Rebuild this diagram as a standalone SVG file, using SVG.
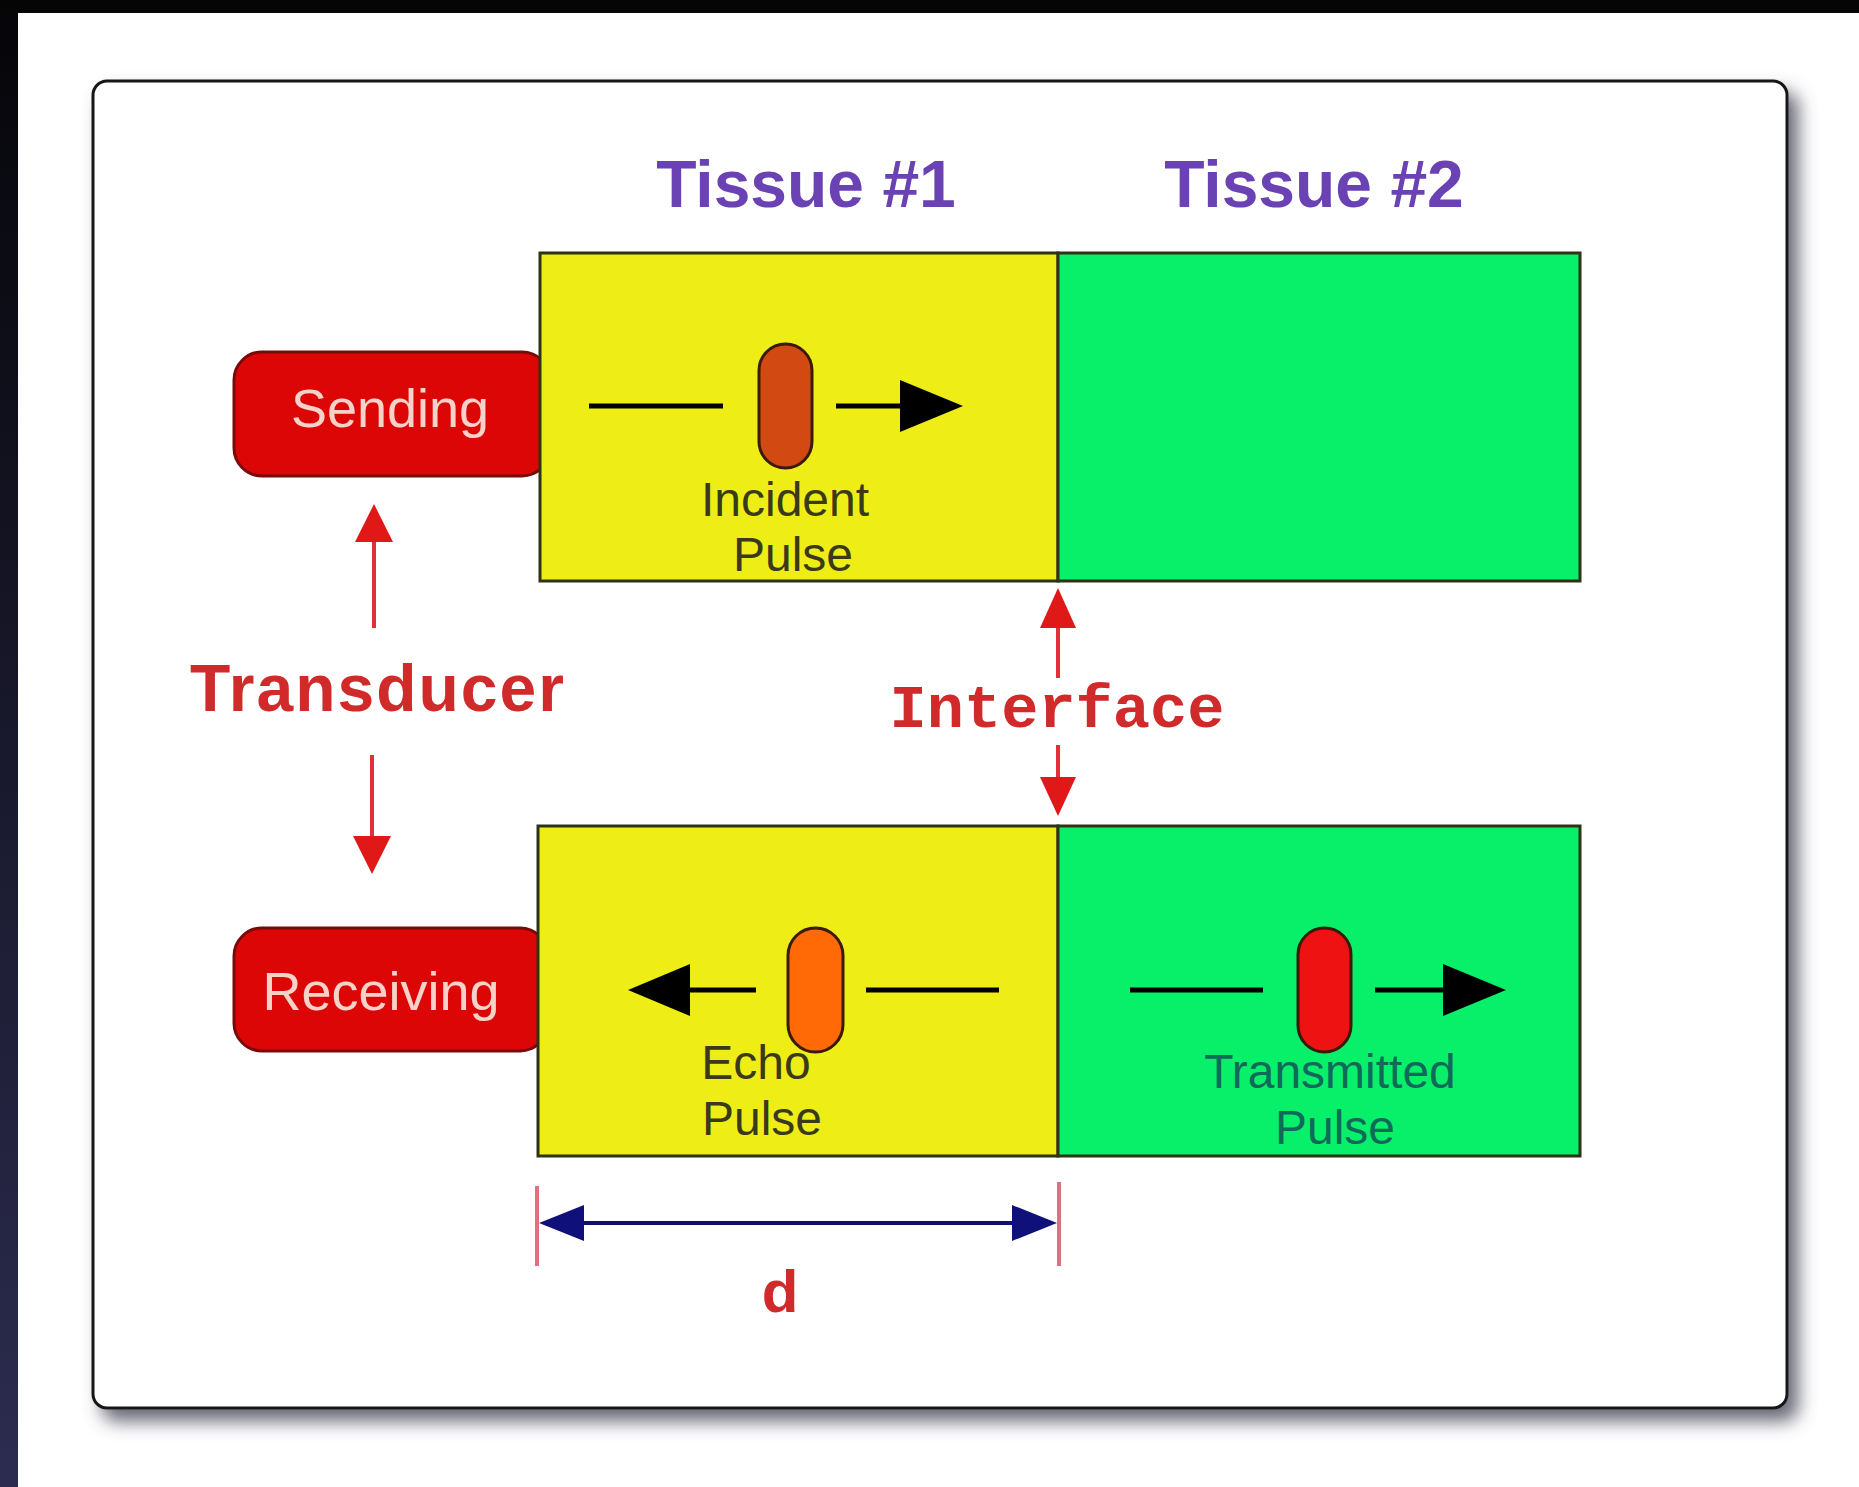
<svg xmlns="http://www.w3.org/2000/svg" width="1859" height="1487" viewBox="0 0 1859 1487">
  <defs>
    <style>
      .tissue { font-family: "Liberation Sans", Arial, sans-serif; font-weight: bold; font-size: 66px; fill: #6a42b4; text-anchor: middle; }
      .tbox { stroke: #2e3314; stroke-width: 3; }
      .yellow { fill: #eeee16; }
      .green { fill: #08f06a; }
      .xdcr { fill: #dd0606; stroke: #7a0a0a; stroke-width: 3; }
      .xdcr-label { font-family: "Liberation Sans", Arial, sans-serif; font-size: 54px; fill: #f6d2c8; text-anchor: middle; }
      .small { font-family: "Liberation Sans", Arial, sans-serif; font-size: 48px; text-anchor: middle; }
      .wave { stroke: #000; stroke-width: 5; fill: none; }
      .pill { stroke: #3a1a0a; stroke-width: 3; }
      .red-label { font-weight: bold; fill: #d02a2a; text-anchor: middle; }
      .red-arrow { stroke: #e0303a; stroke-width: 4; fill: none; }
      .head-red { fill: #e01818; }
      .head-navy { fill: #10107a; }
    </style>
    <filter id="panelShadow" x="-5%" y="-5%" width="112%" height="115%">
      <feDropShadow dx="10" dy="12" stdDeviation="9" flood-color="#50505e" flood-opacity="0.85"/>
    </filter>
    <linearGradient id="edge" x1="0" y1="0" x2="0" y2="1">
      <stop offset="0" stop-color="#050508"/>
      <stop offset="1" stop-color="#2c2c50"/>
    </linearGradient>
  </defs>

  <!-- page backdrop -->
  <rect x="0" y="0" width="1859" height="1487" fill="#ffffff"/>
  <rect x="0" y="0" width="18" height="1487" fill="url(#edge)"/>
  <rect x="0" y="0" width="1859" height="13" fill="#050505"/>

  <!-- framed panel -->
  <rect id="panel" x="93" y="81" width="1694" height="1327" rx="14" fill="#ffffff" stroke="#151515" stroke-width="3" filter="url(#panelShadow)"/>

  <!-- column headings -->
  <g id="tissue1-title"><text class="tissue" x="806" y="207">Tissue #1</text></g>
  <g id="tissue2-title"><text class="tissue" x="1314" y="207">Tissue #2</text></g>

  <!-- transducer: sending -->
  <g id="sending">
    <rect class="xdcr" x="234" y="352" width="316" height="124" rx="28"/>
    <text class="xdcr-label" x="390" y="427">Sending</text>
  </g>

  <!-- upper strip: incident pulse -->
  <g id="upper-strip">
    <rect class="yellow tbox" x="540" y="253" width="518" height="328"/>
    <rect class="green tbox" x="1058" y="253" width="522" height="328"/>
  </g>
  <g id="incident-pulse">
    <line class="wave" x1="589" y1="406" x2="723" y2="406"/>
    <rect class="pill" x="759" y="344" width="53" height="124" rx="26.5" fill="#d24a12"/>
    <line class="wave" x1="836" y1="406" x2="905" y2="406"/>
    <path d="M900,380 L963,406 L900,432 z" fill="#000"/>
    <text class="small" x="785" y="516" fill="#3a3a1a">Incident</text>
    <text class="small" x="793" y="571" fill="#3a3a1a">Pulse</text>
  </g>

  <!-- transducer: receiving -->
  <g id="receiving">
    <rect class="xdcr" x="234" y="928" width="314" height="123" rx="28"/>
    <text class="xdcr-label" x="381" y="1010">Receiving</text>
  </g>

  <!-- lower strip: echo and transmitted pulses -->
  <g id="lower-strip">
    <rect class="yellow tbox" x="538" y="826" width="520" height="330"/>
    <rect class="green tbox" x="1058" y="826" width="522" height="330"/>
  </g>
  <g id="echo-pulse">
    <path d="M628,990 L690,964 L690,1016 z" fill="#000"/>
    <line class="wave" x1="688" y1="990" x2="756" y2="990"/>
    <rect class="pill" x="788" y="928" width="55" height="124" rx="27.5" fill="#ff6a06"/>
    <line class="wave" x1="866" y1="990" x2="999" y2="990"/>
    <text class="small" x="756" y="1079" fill="#3a3a1a">Echo</text>
    <text class="small" x="762" y="1135" fill="#3a3a1a">Pulse</text>
  </g>
  <g id="transmitted-pulse">
    <line class="wave" x1="1130" y1="990" x2="1263" y2="990"/>
    <rect class="pill" x="1298" y="928" width="53" height="124" rx="26.5" fill="#ee1212"/>
    <line class="wave" x1="1375" y1="990" x2="1445" y2="990"/>
    <path d="M1443,964 L1506,990 L1443,1016 z" fill="#000"/>
    <text class="small" x="1330" y="1088" fill="#106a5a">Transmitted</text>
    <text class="small" x="1335" y="1144" fill="#106a5a">Pulse</text>
  </g>

  <!-- labels -->
  <g id="transducer-label">
    <text class="red-label" x="378" y="711" font-family="'Liberation Sans', Arial, sans-serif" font-size="66px" letter-spacing="2">Transducer</text>
  </g>
  <g id="interface-label">
    <text class="red-label" x="1057" y="727" font-family="'Liberation Mono', 'Courier New', monospace" font-size="62px">Interface</text>
  </g>
  <g id="distance-label">
    <text class="red-label" x="780" y="1312" font-family="'Liberation Sans', Arial, sans-serif" font-size="60px">d</text>
  </g>

  <!-- connectors -->
  <g id="connectors">
    <!-- transducer arrows -->
    <line class="red-arrow" x1="374" y1="628" x2="374" y2="536"/>
    <path class="head-red" d="M374,504 L355,542 L393,542 z"/>
    <line class="red-arrow" x1="372" y1="755" x2="372" y2="840"/>
    <path class="head-red" d="M372,874 L353,836 L391,836 z"/>
    <!-- interface arrows -->
    <line class="red-arrow" x1="1058" y1="678" x2="1058" y2="620"/>
    <path class="head-red" d="M1058,588 L1040,628 L1076,628 z"/>
    <line class="red-arrow" x1="1058" y1="745" x2="1058" y2="782"/>
    <path class="head-red" d="M1058,816 L1040,777 L1076,777 z"/>
    <!-- distance d -->
    <line x1="537" y1="1186" x2="537" y2="1266" stroke="#e07080" stroke-width="4"/>
    <line x1="1059" y1="1182" x2="1059" y2="1266" stroke="#e07080" stroke-width="4"/>
    <line x1="580" y1="1223" x2="1016" y2="1223" stroke="#101070" stroke-width="4"/>
    <path class="head-navy" d="M539,1223 L584,1205 L584,1241 z"/>
    <path class="head-navy" d="M1057,1223 L1012,1205 L1012,1241 z"/>
  </g>
</svg>
